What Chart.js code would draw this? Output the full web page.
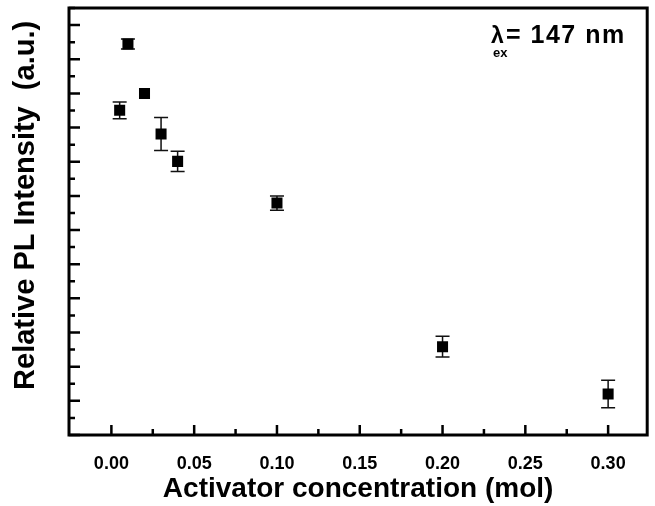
<!DOCTYPE html>
<html>
<head>
<meta charset="utf-8">
<script src="https://cdn.jsdelivr.net/npm/chart.js@4.4.1/dist/chart.umd.min.js"></script>
<style>
  html, body { margin: 0; padding: 0; background: #fff; overflow: hidden; }
  #wrap { width: 655px; height: 506px; }
</style>
</head>
<body>
<div id="wrap"><canvas id="grafico"></canvas></div>
<script>
// concentração do ativador (mol) e intensidade relativa (u.a.)
const concentracoes = [0.005, 0.01, 0.02, 0.03, 0.04, 0.10, 0.20, 0.30];
const intensidades  = [19.01, 22.89, 20.00, 17.62, 16.02, 13.58, 5.17, 2.40];
const erros         = [0.49, 0.29, 0, 0.97, 0.59, 0.42, 0.61, 0.81];

const xMajor = [0, 0.05, 0.10, 0.15, 0.20, 0.25, 0.30];
const xMinor = [0.025, 0.075, 0.125, 0.175, 0.225, 0.275];
const yMajor = [0, 2, 4, 6, 8, 10, 12, 14, 16, 18, 20, 22, 24];
const yMinor = [1, 3, 5, 7, 9, 11, 13, 15, 17, 19, 21, 23, 25];

const FONTE = "'Liberation Sans', Arial, sans-serif";

const pontos = concentracoes.map((c, i) => ({ x: c, y: intensidades[i] }));

const moldura = {
    id: 'moldura',
    beforeDatasetsDraw(chart) {
        const { ctx, scales: { x, y } } = chart;
        ctx.save();
        ctx.strokeStyle = '#111';
        ctx.lineWidth = 1.5;
        pontos.forEach((p, i) => {
            if (!erros[i]) return;
            const px = x.getPixelForValue(p.x);
            const y1 = y.getPixelForValue(p.y - erros[i]);
            const y2 = y.getPixelForValue(p.y + erros[i]);
            ctx.beginPath();
            ctx.moveTo(px, y1); ctx.lineTo(px, y2);
            ctx.moveTo(px - 7, y1); ctx.lineTo(px + 7, y1);
            ctx.moveTo(px - 7, y2); ctx.lineTo(px + 7, y2);
            ctx.stroke();
        });
        ctx.restore();
    },
    afterDraw(chart) {
        const { ctx, chartArea: a, scales: { x, y } } = chart;
        ctx.save();
        ctx.strokeStyle = '#000';

        // marcas internas
        ctx.lineWidth = 2.5;
        ctx.beginPath();
        xMajor.forEach(v => { const px = x.getPixelForValue(v); ctx.moveTo(px, a.bottom); ctx.lineTo(px, a.bottom - 10); });
        xMinor.forEach(v => { const px = x.getPixelForValue(v); ctx.moveTo(px, a.bottom); ctx.lineTo(px, a.bottom - 6); });
        yMajor.forEach(v => { const py = y.getPixelForValue(v); ctx.moveTo(a.left, py); ctx.lineTo(a.left + 11, py); });
        yMinor.forEach(v => { const py = y.getPixelForValue(v); ctx.moveTo(a.left, py); ctx.lineTo(a.left + 6, py); });
        ctx.stroke();

        // caixa
        ctx.lineWidth = 3;
        ctx.strokeRect(a.left, a.top, a.right - a.left, a.bottom - a.top);

        // anotação
        ctx.fillStyle = '#000';
        ctx.textBaseline = 'alphabetic';
        ctx.font = 'bold 23px ' + FONTE;
        ctx.fillText('λ', 491, 43);
        ctx.font = 'bold 13px ' + FONTE;
        ctx.fillText('ex', 493, 57);
        ctx.font = 'bold 25px ' + FONTE;
        ctx.letterSpacing = '1.5px';
        ctx.fillText('= 147 nm', 506, 43);
        ctx.restore();
    }
};

new Chart(document.getElementById('grafico').getContext('2d'), {
    type: 'scatter',
    data: {
        datasets: [{
            data: pontos,
            pointStyle: 'rect',
            pointRadius: 7.8,
            pointHoverRadius: 7.8,
            backgroundColor: '#000',
            borderColor: '#000',
            borderWidth: 0
        }]
    },
    options: {
        responsive: true,
        maintainAspectRatio: false,
        animation: false,
        layout: { padding: { top: 8, right: 4, left: 0, bottom: 0 } },
        plugins: {
            legend: { display: false },
            tooltip: { enabled: false }
        },
        scales: {
            x: {
                type: 'linear',
                min: -0.0256,
                max: 0.3236,
                grid: { display: false },
                border: { display: false },
                ticks: {
                    stepSize: 0.05,
                    includeBounds: false,
                    padding: 10,
                    color: '#000',
                    font: { family: FONTE, size: 18, weight: 'bold' },
                    callback: v => v.toFixed(2)
                },
                title: {
                    display: true,
                    text: 'Activator concentration (mol)',
                    color: '#000',
                    padding: { top: 0, bottom: 0 },
                    font: { family: FONTE, size: 28, weight: 'bold', lineHeight: 1.2 }
                },
                afterFit: s => { s.height = 71; s.paddingLeft = 0; s.paddingRight = 0; }
            },
            y: {
                min: 0,
                max: 25,
                grid: { display: false },
                border: { display: false },
                ticks: { display: false },
                title: {
                    display: true,
                    text: '    Relative PL Intensity  (a.u.)',
                    color: '#000',
                    padding: { top: 9, bottom: 0 },
                    font: { family: FONTE, size: 29, weight: 'bold', lineHeight: 1.2 }
                },
                afterFit: s => { s.width = 69; s.paddingTop = 0; s.paddingBottom = 0; }
            }
        }
    },
    plugins: [moldura]
});
</script>
</body>
</html>
